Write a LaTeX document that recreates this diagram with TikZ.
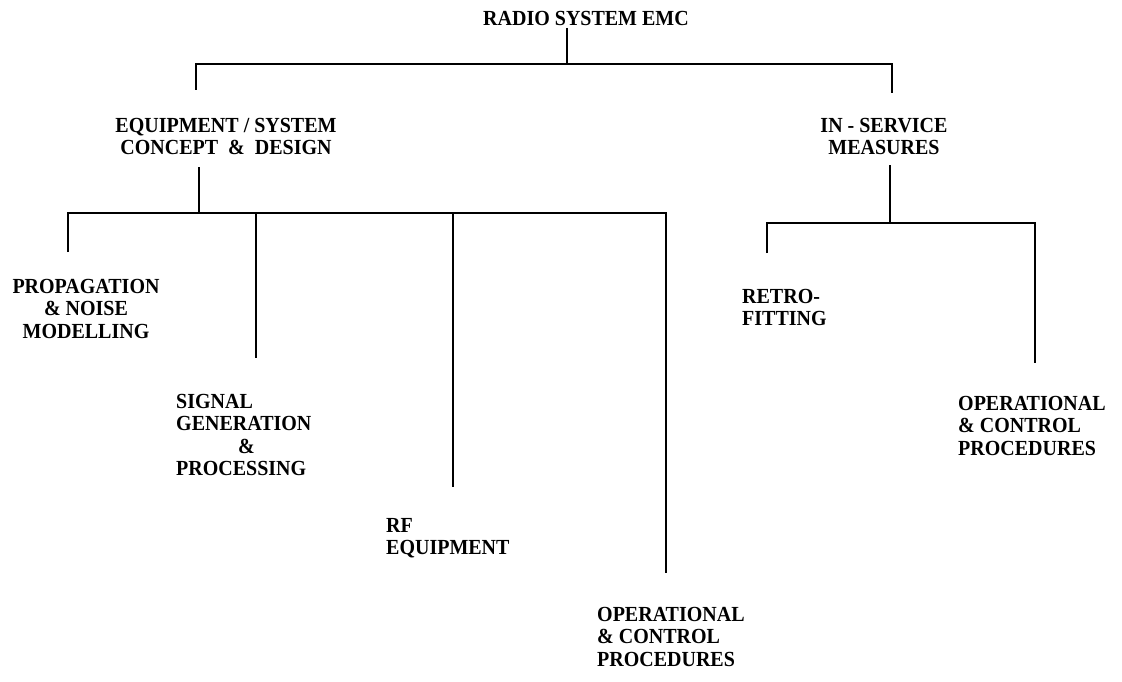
\documentclass[tikz,border=0pt]{standalone}
\usepackage{fontspec}
\newfontfamily\scanfont{Liberation Serif Bold}[FakeStretch=0.93]
\begin{document}
\begin{tikzpicture}[x=1pt,y=-1pt,
  lbl/.style={inner sep=0pt, font=\scanfont\fontsize{21.5}{22.5}\selectfont},
  link/.style={line width=1.4pt, line cap=butt}]
\useasboundingbox (0,0) rectangle (1122,682);

% texts
\node[lbl, anchor=north] (title) at (586,11) {RADIO SYSTEM EMC};
\node[lbl, anchor=north, align=center] (equip) at (226,118) {EQUIPMENT / SYSTEM\\CONCEPT\ \ \&\ \ DESIGN};
\node[lbl, anchor=north, align=center] (insvc) at (884,118) {IN - SERVICE\\MEASURES};
\node[lbl, anchor=north, align=center] (prop) at (86,279) {PROPAGATION\\\& NOISE\\MODELLING};
\node[lbl, anchor=north west, align=left] (sig) at (176,394) {SIGNAL\\GENERATION\\\hspace*{62pt}\&\\PROCESSING};
\node[lbl, anchor=north west, align=left] (rf) at (386,518) {RF\\EQUIPMENT};
\node[lbl, anchor=north west, align=left] (opa) at (597,607) {OPERATIONAL\\\& CONTROL\\PROCEDURES};
\node[lbl, anchor=north west, align=left] (retro) at (742,289) {RETRO-\\FITTING};
\node[lbl, anchor=north west, align=left] (opb) at (958,396) {OPERATIONAL\\\& CONTROL\\PROCEDURES};

% junctions and free ends
\coordinate (t) at (567,64);
\coordinate (eqTop) at (196,90);
\coordinate (isTop) at (892,93);
\coordinate (eqStem) at (199,213);
\coordinate (c1) at (68,252);
\coordinate (c2) at (256,358);
\coordinate (c3) at (453,487);
\coordinate (c4) at (666,573);
\coordinate (isStem) at (890,223);
\coordinate (r1) at (767,253);
\coordinate (r2) at (1035,363);

% connectors
\draw[link] ([yshift=-2pt]title.south -| t) -- (t);
\draw[link] (eqTop) |- (t) -| (isTop);
\draw[link] ([yshift=-12pt]equip.south -| eqStem) -- (eqStem);
\draw[link] (c1) |- (eqStem) -| (c4);
\draw[link] (c2 |- eqStem) -- (c2);
\draw[link] (c3 |- eqStem) -- (c3);
\draw[link] ([yshift=-10pt]insvc.south -| isStem) -- (isStem);
\draw[link] (r1) |- (isStem) -| (r2);
\end{tikzpicture}
\end{document}
